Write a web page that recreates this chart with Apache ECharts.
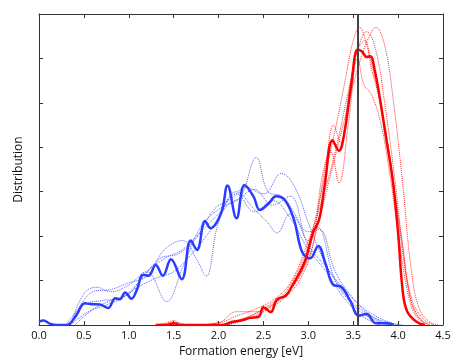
<!DOCTYPE html>
<html>
<head>
<meta charset="utf-8">
<script src="https://cdn.jsdelivr.net/npm/echarts@6/dist/echarts.min.js"></script>
<style>
  html, body { margin: 0; padding: 0; background: #fff; }
  #chart { width: 469px; height: 363px; }
</style>
</head>
<body>
<div id="chart"></div>
<script>
// x tick labels
const xTicks = [0, 0.5, 1, 1.5, 2, 2.5, 3, 3.5, 4, 4.5]

// thick blue curve
const blueX = [0, 0.05, 0.12, 0.2, 0.31, 0.35, 0.42, 0.51, 0.57, 0.68, 0.77, 0.85, 0.9, 0.96, 1.03, 1.09, 1.16, 1.22, 1.3, 1.38, 1.47, 1.59, 1.69, 1.76, 1.85, 1.91, 2.03, 2.1, 2.2, 2.29, 2.39, 2.46, 2.56, 2.64, 2.74, 2.84, 2.93, 3.02, 3.11, 3.19, 3.28, 3.36, 3.47, 3.56, 3.65, 3.75, 3.88, 3.95]
const blueY = [0.07, 0.1, 0.03, 0, 0, 0.04, 0.23, 0.49, 0.47, 0.46, 0.38, 0.6, 0.58, 0.73, 0.59, 0.79, 1.13, 1.11, 1.35, 1.11, 1.48, 1.03, 1.9, 1.69, 2.34, 2.18, 2.53, 3.14, 2.4, 3.15, 2.89, 2.59, 2.74, 2.9, 2.81, 2.37, 1.65, 1.5, 1.78, 1.39, 0.9, 0.87, 0.53, 0.21, 0.25, 0.04, 0.04, 0]

// thick red curve
const redX = [1.3, 1.42, 1.5, 1.58, 2.05, 2.15, 2.25, 2.35, 2.45, 2.5, 2.58, 2.65, 2.75, 2.82, 2.9, 2.97, 3.05, 3.12, 3.18, 3.27, 3.34, 3.4, 3.48, 3.55, 3.6, 3.65, 3.69, 3.74, 3.8, 3.87, 3.94, 4.0, 4.05, 4.1, 4.2, 4.3]
const redY = [0, 0, 0.04, 0, 0, 0.07, 0.1, 0.16, 0.19, 0.4, 0.29, 0.57, 0.66, 0.88, 1.17, 1.48, 2.07, 2.37, 3.11, 4.16, 3.92, 4.31, 5.43, 6.2, 6.15, 6.03, 6.05, 5.73, 5.06, 4.16, 3.26, 2.07, 0.79, 0.31, 0.08, 0]

// dotted blue curves
const blueDot1X = [0.3, 0.5, 0.7, 0.9, 1.1, 1.3, 1.5, 1.7, 1.9, 2.1, 2.25, 2.42, 2.55, 2.7, 2.85, 3.0, 3.2, 3.4, 3.6, 3.8, 4.0]
const blueDot1Y = [0, 0.45, 0.55, 0.6, 0.85, 1.05, 1.2, 1.6, 2.1, 2.7, 2.9, 3.77, 3.0, 2.9, 2.5, 1.8, 1.3, 0.8, 0.4, 0.15, 0]
const blueDot2X = [0.35, 0.55, 0.75, 0.95, 1.15, 1.35, 1.55, 1.75, 1.95, 2.15, 2.3, 2.5, 2.7, 2.85, 3.0, 3.15, 3.3, 3.5, 3.7, 3.9, 4.05]
const blueDot2Y = [0, 0.3, 0.45, 0.65, 1.05, 1.5, 1.6, 1.95, 2.6, 2.85, 3.1, 2.95, 3.41, 3.1, 2.3, 1.55, 1.0, 0.5, 0.2, 0.05, 0]
const blueDot3X = [0.35, 0.6, 0.8, 1.0, 1.2, 1.4, 1.6, 1.75, 1.86, 2.0, 2.2, 2.4, 2.55, 2.65, 2.8, 3.0, 3.12, 3.3, 3.5, 3.7, 3.9]
const blueDot3Y = [0, 0.75, 0.8, 0.95, 1.1, 1.7, 1.9, 1.5, 1.1, 2.3, 3.0, 2.6, 2.3, 2.07, 2.5, 2.1, 2.15, 1.2, 0.6, 0.2, 0]
const blueDot4X = [0.35, 0.5, 0.64, 0.8, 1.0, 1.2, 1.42, 1.6, 1.8, 2.0, 2.2, 2.4, 2.6, 2.8, 3.0, 3.1, 3.3, 3.5, 3.7, 3.9]
const blueDot4Y = [0, 0.7, 0.85, 0.75, 0.9, 1.2, 0.53, 1.3, 2.2, 2.6, 2.8, 3.05, 2.7, 2.9, 1.9, 2.2, 1.0, 0.45, 0.15, 0]
const blueDot5X = [0.4, 0.6, 0.8, 1.0, 1.2, 1.4, 1.6, 1.8, 2.0, 2.2, 2.4, 2.6, 2.8, 3.0, 3.2, 3.4, 3.6, 3.8]
const blueDot5Y = [0, 0.35, 0.55, 0.7, 1.2, 1.5, 1.7, 2.1, 2.5, 2.95, 2.55, 2.8, 2.4, 1.7, 1.2, 0.6, 0.2, 0]

// dotted red curves
const redDot1X = [1.3, 1.5, 1.7, 2.0, 2.2, 2.4, 2.6, 2.8, 3.0, 3.1, 3.2, 3.3, 3.4, 3.5, 3.57, 3.65, 3.75, 3.85, 3.95, 4.05, 4.15, 4.3, 4.45]
const redDot1Y = [0, 0.06, 0, 0.05, 0.3, 0.3, 0.45, 0.9, 1.8, 2.6, 3.5, 4.4, 5.4, 6.4, 6.7, 6.3, 5.5, 4.5, 3.2, 1.8, 0.6, 0.1, 0]
const redDot2X = [2.0, 2.2, 2.4, 2.6, 2.8, 3.0, 3.1, 3.2, 3.3, 3.4, 3.5, 3.6, 3.68, 3.75, 3.85, 3.95, 4.05, 4.15, 4.25, 4.4]
const redDot2Y = [0, 0.1, 0.25, 0.5, 0.8, 1.5, 2.2, 3.0, 3.8, 4.6, 5.4, 6.1, 6.5, 6.7, 6.3, 5.0, 3.2, 1.2, 0.3, 0]
const redDot3X = [2.1, 2.3, 2.5, 2.7, 2.9, 3.05, 3.2, 3.28, 3.36, 3.45, 3.55, 3.63, 3.7, 3.8, 3.9, 4.0, 4.1, 4.2, 4.35]
const redDot3Y = [0, 0.15, 0.35, 0.6, 1.1, 2.0, 3.7, 4.5, 4.1, 5.2, 6.2, 6.4, 5.8, 5.0, 3.9, 2.4, 1.0, 0.25, 0]
const redDot4X = [2.1, 2.3, 2.5, 2.7, 2.9, 3.05, 3.15, 3.25, 3.34, 3.45, 3.55, 3.62, 3.7, 3.8, 3.9, 4.0, 4.1, 4.2, 4.35]
const redDot4Y = [0, 0.12, 0.3, 0.55, 1.0, 1.8, 3.3, 3.9, 3.2, 4.6, 6.0, 5.4, 5.2, 4.6, 3.5, 2.1, 0.8, 0.2, 0]
const redDot5X = [1.4, 1.5, 1.6, 2.0, 2.2, 2.4, 2.6, 2.8, 3.0, 3.15, 3.3, 3.45, 3.55, 3.65, 3.75, 3.85, 3.95, 4.05, 4.15, 4.3]
const redDot5Y = [0, 0.1, 0, 0.05, 0.2, 0.35, 0.55, 0.95, 1.9, 2.8, 3.9, 5.3, 6.2, 6.6, 6.2, 5.0, 3.5, 1.8, 0.5, 0]

// reference energy (vertical line)
const refEnergy = 3.55

const zip = (xs, ys) => xs.map((x, i) => [x, ys[i]])

const dotted = (xs, ys, color) => ({
  type: 'line',
  data: zip(xs, ys),
  smooth: 0.4,
  symbol: 'none',
  z: 2,
  lineStyle: { color: color, width: 1, type: 'dotted', opacity: 0.8 }
})

const thick = (xs, ys, color) => ({
  type: 'line',
  data: zip(xs, ys),
  smooth: 0.4,
  symbol: 'none',
  z: 3,
  lineStyle: { color: color, width: 2.5 }
})

const BLUE = '#2a3cff'
const RED = '#ff0000'
const font = 'Open Sans, DejaVu Sans, sans-serif'

const axisCommon = {
  axisLine: { show: true, onZero: false, lineStyle: { color: '#333', width: 1 } },
  axisTick: { show: true, inside: true, length: 4, lineStyle: { color: '#333' } },
  splitLine: { show: false }
}

const chart = echarts.init(document.getElementById('chart'))
chart.setOption({
  animation: false,
  grid: { left: 39, right: 26, top: 14, bottom: 38 },
  xAxis: [
    {
      type: 'value', min: 0, max: 4.5, interval: 0.5,
      name: 'Formation energy [eV]', nameLocation: 'middle', nameGap: 20,
      nameTextStyle: { fontFamily: font, fontSize: 12, color: '#111' },
      axisLabel: { fontFamily: font, fontSize: 11, color: '#111', margin: 5,
        formatter: v => v.toFixed(1) },
      ...axisCommon
    },
    {
      type: 'value', min: 0, max: 4.5, interval: 0.5, position: 'top',
      axisLabel: { show: false }, ...axisCommon
    }
  ],
  yAxis: [
    {
      type: 'value', min: 0, max: 7, interval: 1,
      name: 'Distribution', nameLocation: 'middle', nameGap: 14,
      nameTextStyle: { fontFamily: font, fontSize: 12, color: '#111' },
      axisLabel: { show: false }, ...axisCommon
    },
    {
      type: 'value', min: 0, max: 7, interval: 1, position: 'right',
      axisLabel: { show: false }, ...axisCommon
    }
  ],
  series: [
    dotted(blueDot1X, blueDot1Y, BLUE),
    dotted(blueDot2X, blueDot2Y, BLUE),
    dotted(blueDot3X, blueDot3Y, BLUE),
    dotted(blueDot4X, blueDot4Y, BLUE),
    dotted(blueDot5X, blueDot5Y, BLUE),
    dotted(redDot1X, redDot1Y, RED),
    dotted(redDot2X, redDot2Y, RED),
    dotted(redDot3X, redDot3Y, RED),
    dotted(redDot4X, redDot4Y, RED),
    dotted(redDot5X, redDot5Y, RED),
    thick(blueX, blueY, BLUE),
    {
      ...thick(redX, redY, RED),
      markLine: {
        silent: true, symbol: 'none', label: { show: false },
        lineStyle: { color: '#444', width: 2, type: 'solid' },
        data: [{ xAxis: refEnergy }]
      }
    }
  ]
})
</script>
</body>
</html>
